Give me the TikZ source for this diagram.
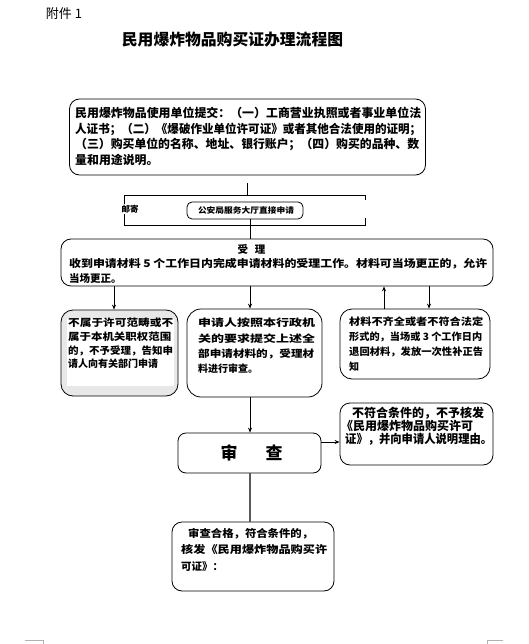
\documentclass[tikz,border=0pt]{standalone}
\usepackage{fontspec}
\usepackage{graphicx}
\newfontfamily\cjk{Noto Sans CJK SC}
\usetikzlibrary{arrows.meta}
\newcommand\fl[2]{\resizebox{#1}{\height}{#2}}
\newcommand\fsz[2]{\fontsize{#1}{#2}\selectfont}
\begin{document}
\begin{tikzpicture}[x=1pt,y=-1pt,
  box/.style={draw=black, line width=0.8pt, rounded corners=#1, inner sep=0pt, fill=white},
  box/.default=8pt,
  txt/.style={inner sep=0pt, anchor=north west, align=left},
  arr/.style={line width=0.8pt, -{Stealth[length=5pt,width=4pt]}},
  ln/.style={line width=0.8pt},
  crop/.style={draw=gray!60, line width=0.6pt}]
\useasboundingbox[fill=white] (0,0) rectangle (528,644);

% header
\node[inner sep=0pt, font={\cjk\fsz{13}{15}}] (att) at (64,14) {附件 1};
\node[inner sep=0pt, font={\cjk\bfseries\fsz{15.8}{18}}] (title) at (232.5,40) {民用爆炸物品购买证办理流程图};

% box 1
\node[box=10pt, minimum width=356pt, minimum height=76pt] (box1) at (247.5,137) {};
\node[txt, font={\cjk\bfseries\fsz{11.9}{15.5}}] (t1) at (75,107)
 {\fl{346pt}{民用爆炸物品使用单位提交：（一）工商营业执照或者事业单位法}\\
  \fl{346pt}{人证书；（二）《爆破作业单位许可证》或者其他合法使用的证明；}\\
  \fl{344pt}{（三）购买单位的名称、地址、银行账户；（四）购买的品种、数}\\
  量和用途说明。};

% bracket
\coordinate (brTL) at (124,195);
\coordinate (brTR) at (365,195);
\coordinate (brBL) at (124,225);
\coordinate (brBR) at (365,225);
\draw[ln] ([yshift=-8pt]box1.south) -- (box1.south |- brTL);
\draw[ln] ([yshift=-5pt]brTR) -- (brTR) -- (brTL) -- (brBL) -- (brBR) -- ([yshift=7pt]brBR);
\node[inner sep=0.6pt, fill=white, font={\cjk\bfseries\fsz{8.5}{10}}] (mailtxt) at (130,209) {邮寄};

% mail box
\node[box=5pt, minimum width=116pt, minimum height=17pt] (mail) at (245,210.5) {};
\node[inner sep=0pt, font={\cjk\bfseries\fsz{8}{10}}] (tmail) at (246,210.5) {\fl{96pt}{公安局服务大厅直接申请}};

% box 2
\coordinate (xl) at (114,0);
\coordinate (xm) at (250,0);
\coordinate (xu) at (384,0);
\coordinate (xr) at (429,0);
\node[box=10pt, minimum width=432pt, minimum height=47pt] (box2) at (277,262.5) {};
\draw[ln] (mail.south -| xm) -- (box2.north -| xm);
\node[inner sep=0pt, font={\cjk\bfseries\fsz{10.5}{12}}] (t2h) at (251.5,249) {受\hspace{7pt}理};
\node[txt, font={\cjk\bfseries\fsz{10.5}{15}}] (t2) at (69,257.75)
 {\fl{418pt}{收到申请材料 5 个工作日内完成申请材料的受理工作。材料可当场更正的，允许}\\
  当场更正。};

% box 3
\node[box=12pt, fill=gray!18, minimum width=117pt, minimum height=86pt] (box3) at (119.5,353) {};
\fill[white] (67,318) rectangle (174,386);
\node[txt, font={\cjk\bfseries\fsz{10}{13.7}}] (t3) at (68,318)
 {\fl{105pt}{不属于许可范畴或不}\\
  \fl{103pt}{属于本机关职权范围}\\
  \fl{105pt}{的，不予受理，告知申}\\
  请人向有关部门申请};

% box 4
\node[box=14pt, minimum width=135pt, minimum height=88pt] (box4) at (254.5,353) {};
\node[txt, font={\cjk\bfseries\fsz{10}{15.3}}] (t4) at (198,318)
 {\fl{117pt}{申请人按照本行政机}\\
  \fl{117pt}{关的要求提交上述全}\\
  \fl{116pt}{部申请材料的，受理材}\\
  料进行审查。};

% box 5
\node[box=12pt, minimum width=150pt, minimum height=70pt] (box5) at (415,344) {};
\node[txt, font={\cjk\bfseries\fsz{10}{14.8}}] (t5) at (349,317)
 {\fl{134pt}{材料不齐全或者不符合法定}\\
  \fl{133pt}{形式的，当场或 3 个工作日内}\\
  \fl{134pt}{退回材料，发放一次性补正告}\\
  知};

% arrows from box 2
\draw[arr] (box2.south -| xl) -- (box3.north -| xl);
\draw[arr] (box2.south -| xm) -- (box4.north -| xm);
\draw[arr] (box5.north -| xu) -- (box2.south -| xu);
\draw[arr] (box2.south -| xr) -- (box5.north -| xr);

% review
\node[box=8pt, minimum width=143pt, minimum height=40pt] (review) at (249.5,453) {};
\node[inner sep=0pt, font={\cjk\bfseries\fsz{17}{19}}] (trev) at (251.5,453) {审\hspace{28pt}查};
\draw[arr] (box4.south -| xm) -- (review.north -| xm);

% box 6
\node[box=10pt, minimum width=153pt, minimum height=62pt] (box6) at (416.5,434) {};
\node[txt, font={\cjk\bfseries\fsz{12}{13}}] (t6) at (345,407)
 {\hspace*{7pt}不符合条件的，不予核发\\
  \hspace*{-4pt}《民用爆炸物品购买许可\\
  \fl{147pt}{证》，并向申请人说明理由。}};
\coordinate (ya) at (0,442);
\draw[arr] (review.east |- ya) -- (box6.west |- ya);

% box 7
\node[box=10pt, minimum width=162pt, minimum height=69pt] (box7) at (253,556.5) {};
\draw[line width=1.4pt, draw=gray!70!black] (review.south -| xm) -- (box7.north -| xm);
\node[txt, font={\cjk\bfseries\fsz{10.5}{16.5}}] (t7) at (181,527.75)
 {\hspace*{7pt}\fl{125pt}{审查合格，符合条件的，}\\
  \fl{146pt}{核发《民用爆炸物品购买许}\\
  可证》：};

% crop marks
\draw[crop] (25,640) -- (43,640) -- (43,644);
\draw[crop] (503,640) -- (487,640) -- (487,644);
\end{tikzpicture}
\end{document}
